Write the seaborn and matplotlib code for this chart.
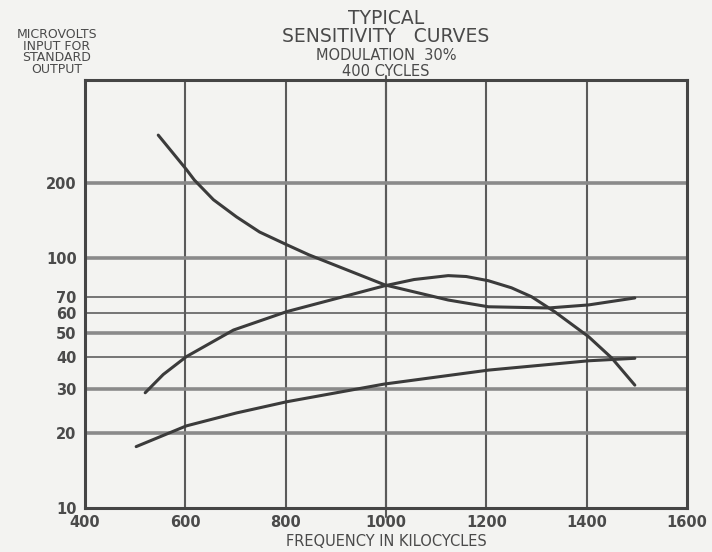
import matplotlib
matplotlib.use("Agg")
import matplotlib.pyplot as plt
import seaborn as sns

# curve readings (frequency in kc, microvolts)
falling_freq = [546, 602, 618, 656, 702, 748, 802, 846, 998, 1124, 1204, 1324, 1404, 1496]
falling_uv = [310, 226, 205, 171, 146, 127, 113, 103, 78, 67.9, 63.8, 63.1, 64.9, 69.2]

hump_freq = [520, 556, 602, 696, 802, 996, 1056, 1124, 1160, 1204, 1250, 1290, 1336, 1404, 1450, 1496]
hump_uv = [28.9, 34.2, 40.3, 51.5, 61.0, 77.3, 82.0, 85.0, 84.3, 81.1, 76.0, 70.0, 61.0, 48.4, 39.8, 31.0]

low_freq = [502, 602, 702, 802, 996, 1204, 1404, 1496]
low_uv = [17.6, 21.3, 24.0, 26.6, 31.3, 35.6, 38.8, 39.7]

x_ticks = [400, 600, 800, 1000, 1200, 1400, 1600]
y_ticks = [10, 20, 30, 40, 50, 60, 70, 100, 200]
heavy_lines = [20, 30, 50, 100, 200]
light_lines = [40, 60, 70]

bg = "#f3f3f1"
ink = "#3b3b3b"
txt = "#4a4a4a"

sns.set_style("white")
plt.rcParams["font.family"] = ["DejaVu Sans"]

fig = plt.figure(figsize=(7.12, 5.52), dpi=100, facecolor=bg)
ax = fig.add_axes([85 / 712, 1 - 508 / 552, 602 / 712, 428 / 552])
ax.set_facecolor(bg)

ax.set_yscale("log")
ax.set_xlim(400, 1600)
ax.set_ylim(10, 515)

# grid
for v in x_ticks[1:-1]:
    ax.axvline(v, color="#5a5a5a", lw=1.5, zorder=1)
ax.axvline(1000, ymin=-0.02, ymax=1.01, color="#5a5a5a", lw=1.5, clip_on=False, zorder=1)
for v in heavy_lines:
    ax.axhline(v, color="#8a8a8a", lw=2.6, zorder=1)
for v in light_lines:
    ax.axhline(v, color="#5f5f5f", lw=1.2, zorder=1)

for xs, ys in [(falling_freq, falling_uv), (hump_freq, hump_uv), (low_freq, low_uv)]:
    sns.lineplot(x=xs, y=ys, ax=ax, sort=False, estimator=None,
                 color=ink, lw=2.2, zorder=3)

for s in ax.spines.values():
    s.set_color("#454545")
    s.set_linewidth(2.2)

ax.set_xticks(x_ticks)
ax.set_xticklabels([str(v) for v in x_ticks])
ax.set_yticks(y_ticks)
ax.set_yticklabels([str(v) for v in y_ticks])
ax.yaxis.set_minor_locator(matplotlib.ticker.NullLocator())
ax.tick_params(axis="x", length=0, pad=5, labelsize=10.5, labelcolor=txt)
ax.tick_params(axis="y", length=5, width=2.6, color="#8a8a8a", pad=1,
               labelsize=10.5, labelcolor=txt)
for t, v in zip(ax.yaxis.get_major_ticks(), y_ticks):
    if v not in heavy_lines:
        t.tick1line.set_visible(False)
for lab in ax.get_xticklabels() + ax.get_yticklabels():
    lab.set_fontweight("bold")

ax.set_xlabel("FREQUENCY IN KILOCYCLES", fontsize=10.5, color=txt, labelpad=3)

# titles
fig.text(386 / 712, 1 - 19 / 552, "TYPICAL", ha="center", va="center",
         fontsize=13.5, color=txt)
fig.text(386 / 712, 1 - 37 / 552, "SENSITIVITY   CURVES", ha="center", va="center",
         fontsize=13.5, color=txt)
fig.text(386 / 712, 1 - 56 / 552, "MODULATION  30%", ha="center", va="center",
         fontsize=10.5, color=txt)
fig.text(386 / 712, 1 - 71 / 552, "400 CYCLES", ha="center", va="center",
         fontsize=10.5, color=txt)

fig.text(57 / 712, 1 - 52 / 552, "MICROVOLTS\nINPUT FOR\nSTANDARD\nOUTPUT",
         ha="center", va="center", fontsize=9, color=txt, linespacing=0.85)

fig.savefig("out.png", dpi=100, facecolor=bg)
